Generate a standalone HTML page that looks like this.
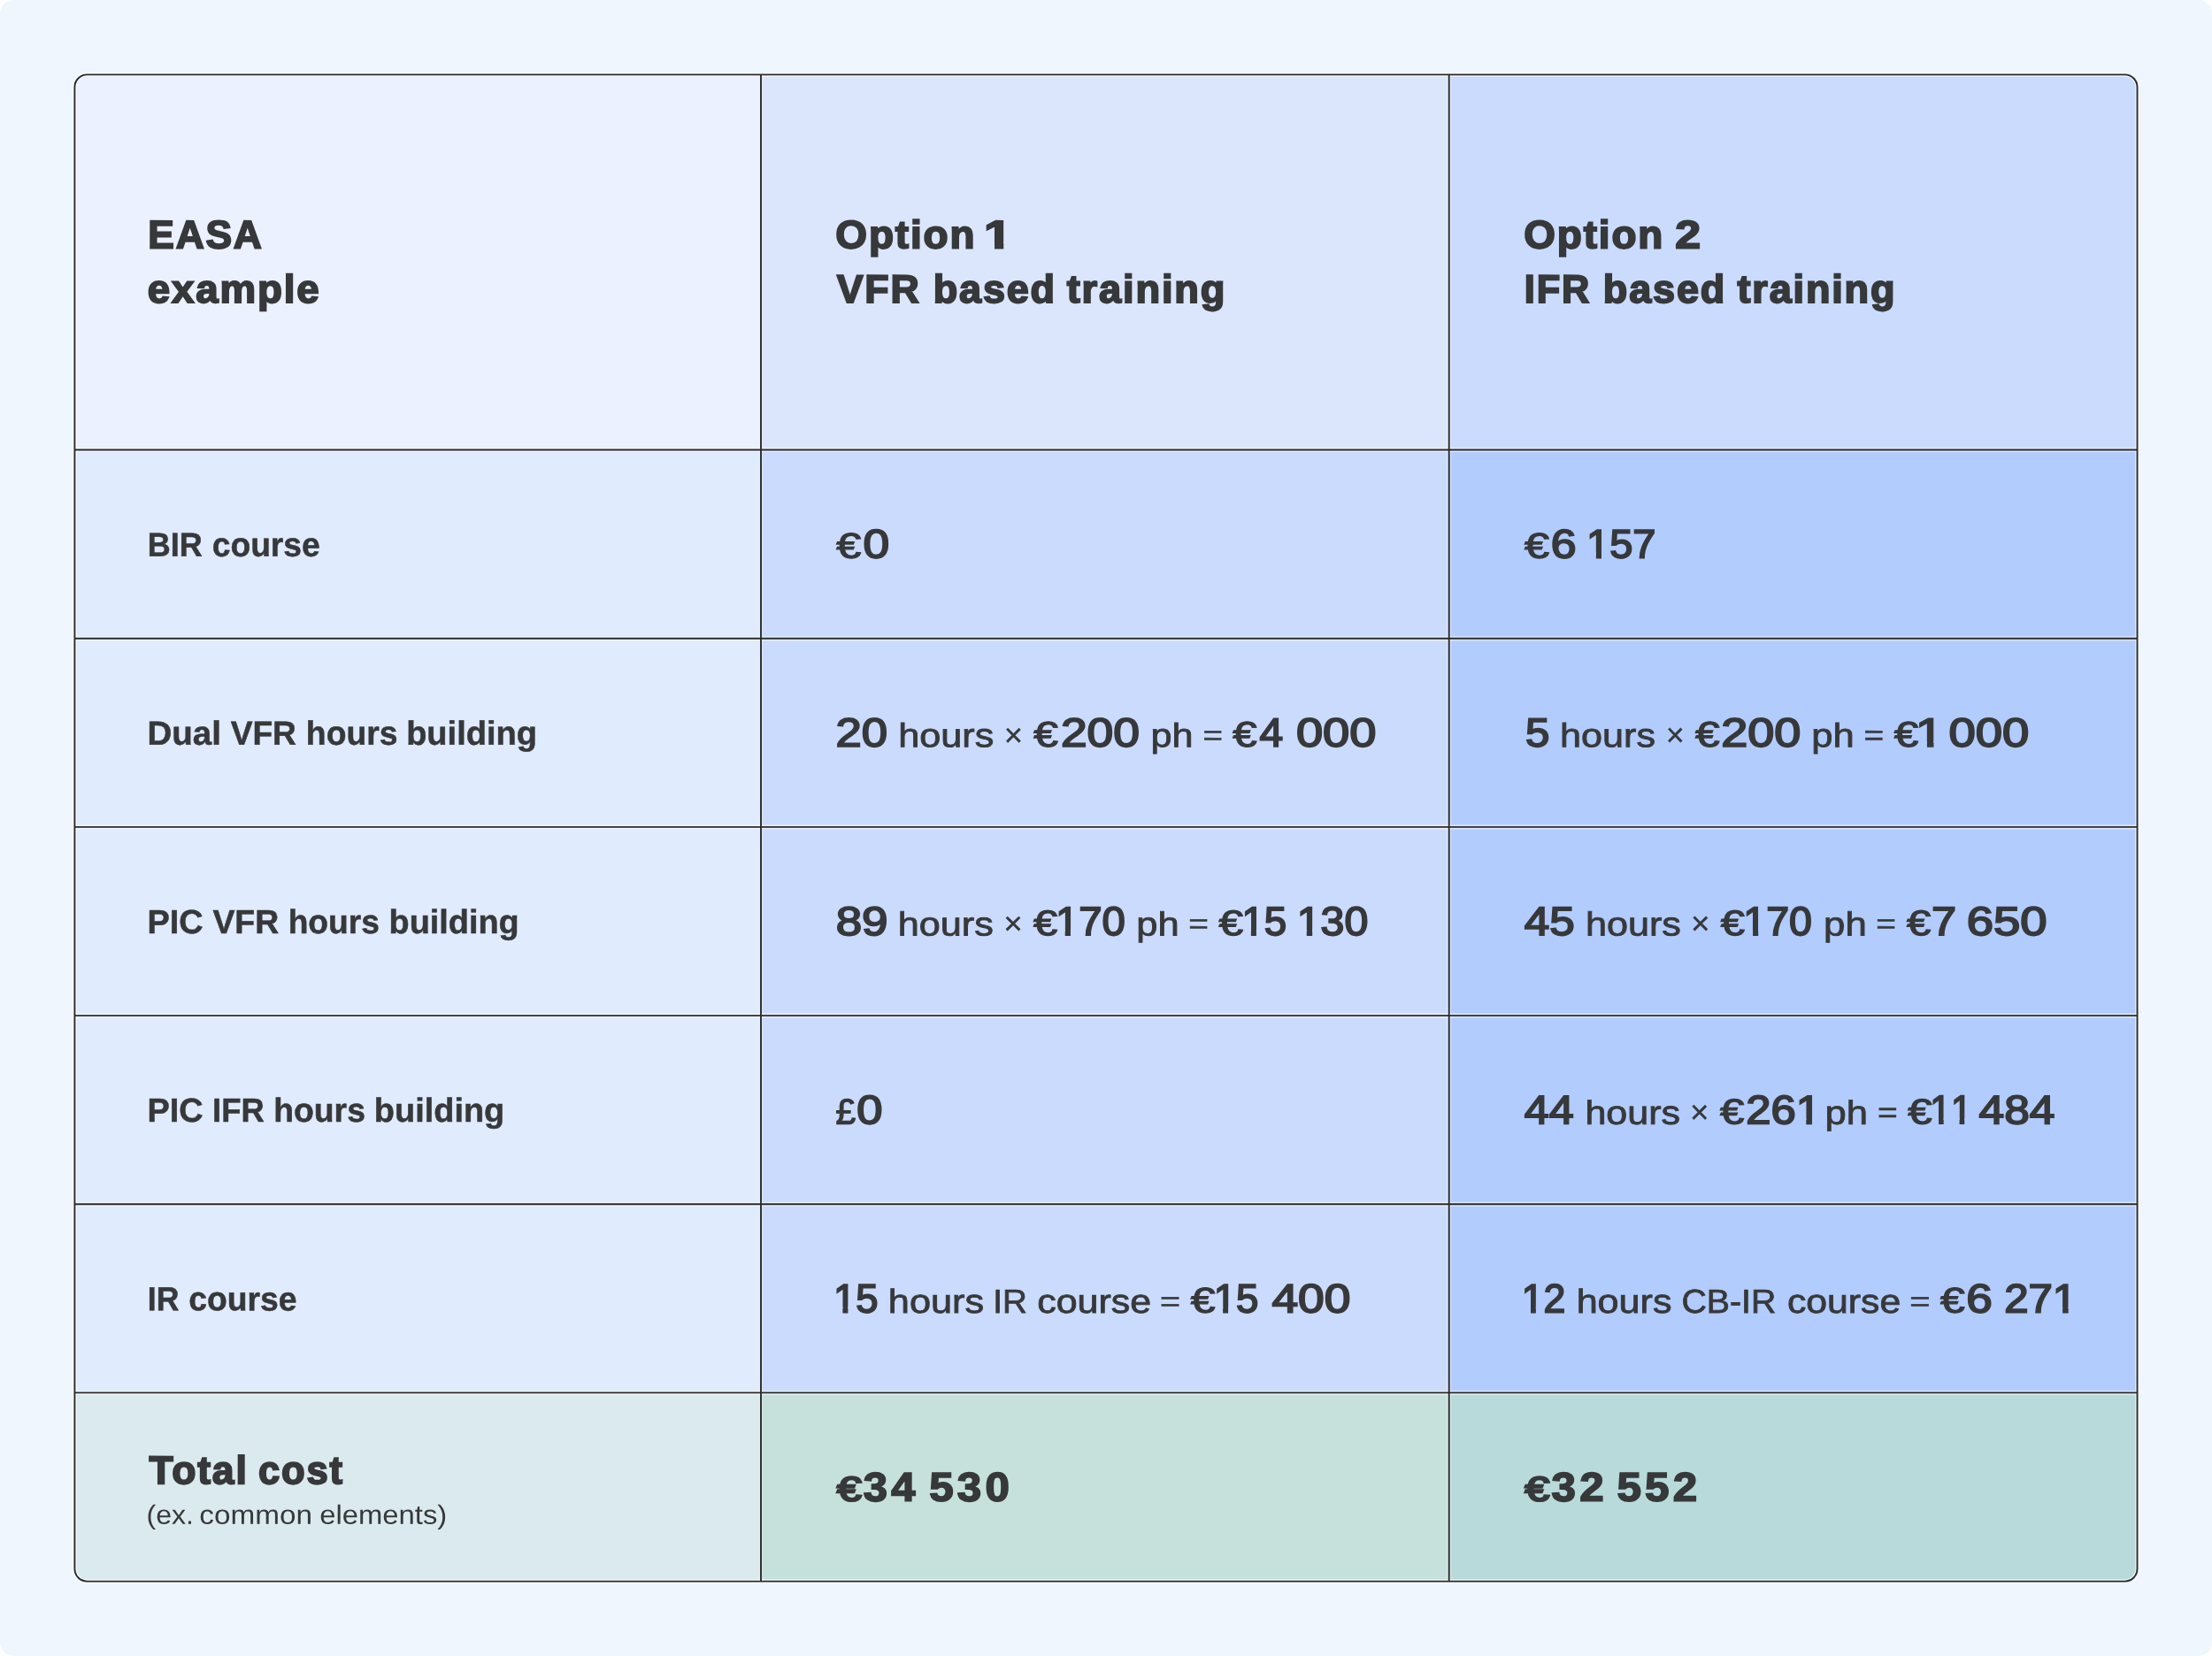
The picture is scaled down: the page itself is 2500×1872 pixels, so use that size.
<!DOCTYPE html>
<html lang="en"><head><meta charset="utf-8"><title>EASA example cost comparison</title>
<style>
html,body{width:2500px;height:1872px;margin:0;padding:0;background:#ffffff;overflow:hidden}
.page{position:absolute;left:0;top:0;width:2500px;height:1872px;background:#f0f6fe;border-radius:15px;overflow:hidden;font-family:"Liberation Sans",sans-serif}
.grid{position:absolute;left:0;top:0}
.texts{position:absolute;left:0;top:0;width:2500px;height:1872px;will-change:transform}
*{margin:0;padding:0;box-sizing:border-box}
.t{position:absolute;white-space:pre;line-height:1;font-family:"Liberation Sans",sans-serif;color:#37383a;transform-origin:0 0}
.cH{font-weight:700;font-size:44.61px;-webkit-text-stroke:1.9px #37383a;letter-spacing:1.8px;}
.cL{font-weight:700;font-size:37.94px;-webkit-text-stroke:0.5px #37383a;}
.cN{font-weight:400;font-size:45.61px;-webkit-text-stroke:1.9px #37383a;}
.cW{font-weight:400;font-size:37.75px;-webkit-text-stroke:0.8px #37383a;}
.cE{font-weight:400;font-size:40.45px;-webkit-text-stroke:1.25px #37383a;}
.cX{font-weight:400;font-size:37.75px;-webkit-text-stroke:0.3px #37383a;}
.cQ{font-weight:400;font-size:37.75px;-webkit-text-stroke:0.6px #37383a;}
.cT{font-weight:700;font-size:46.05px;-webkit-text-stroke:1.7px #37383a;letter-spacing:4.0px;}
.cTE{font-weight:400;font-size:38.83px;-webkit-text-stroke:2.4px #37383a;}
.cS{font-weight:400;font-size:30.42px;}
.oN{display:inline-block;clip-path:polygon(-10px -20px,60px -20px,60px 32.09px,16.45px 32.09px,16.45px 80px,10.52px 80px,10.52px 32.09px,-10px 32.09px)}
.oH{display:inline-block;clip-path:polygon(-10px -20px,60px -20px,60px 29.95px,17.48px 29.95px,17.48px 80px,9.46px 80px,9.46px 29.95px,-10px 29.95px)}
.oT{display:inline-block;clip-path:polygon(-10px -20px,60px -20px,60px 32.00px,17.92px 32.00px,17.92px 80px,9.90px 80px,9.90px 32.00px,-10px 32.00px)}

</style></head><body>
<div class="page">
<svg class="grid" width="2500" height="1872" viewBox="0 0 2500 1872"><defs><clipPath id="tc"><rect x="84.4" y="84.4" width="2331.15" height="1703.20" rx="14.0" ry="14.0"/></clipPath></defs><g clip-path="url(#tc)"><rect x="84.40" y="84.40" width="775.60" height="424.15" fill="#ebf1fe"/><rect x="84.40" y="508.55" width="775.60" height="1065.85" fill="#e0ebfe"/><rect x="84.40" y="1574.40" width="775.60" height="213.20" fill="#dbeaef"/><rect x="860.00" y="84.40" width="777.70" height="424.15" fill="#dbe6fd"/><rect x="860.00" y="508.55" width="777.70" height="1065.85" fill="#cbdbfd"/><rect x="860.00" y="1574.40" width="777.70" height="213.20" fill="#c6e1db"/><rect x="1637.70" y="84.40" width="777.85" height="424.15" fill="#cadbfd"/><rect x="1637.70" y="508.55" width="777.85" height="1065.85" fill="#b2ccfd"/><rect x="1637.70" y="1574.40" width="777.85" height="213.20" fill="#b8dadb"/></g><g stroke="#ffffff" stroke-width="5.0" fill="none"><line x1="84.4" y1="508.55" x2="2415.55" y2="508.55" stroke-opacity=".55"/><line x1="84.4" y1="721.70" x2="2415.55" y2="721.70" stroke-opacity=".55"/><line x1="84.4" y1="934.90" x2="2415.55" y2="934.90" stroke-opacity=".55"/><line x1="84.4" y1="1148.10" x2="2415.55" y2="1148.10" stroke-opacity=".55"/><line x1="84.4" y1="1361.25" x2="2415.55" y2="1361.25" stroke-opacity=".55"/><line x1="84.4" y1="1574.40" x2="2415.55" y2="1574.40" stroke-opacity=".55"/><line x1="860.00" y1="84.4" x2="860.00" y2="1787.6" stroke-opacity="0.12"/><line x1="1637.70" y1="84.4" x2="1637.70" y2="1787.6" stroke-opacity="0.35"/><rect x="84.4" y="84.4" width="2331.15" height="1703.20" rx="14.0" ry="14.0" stroke-opacity=".55"/></g><g stroke="#2a2a2a" stroke-width="1.9" fill="none"><line x1="84.4" y1="508.55" x2="2415.55" y2="508.55"/><line x1="84.4" y1="721.70" x2="2415.55" y2="721.70"/><line x1="84.4" y1="934.90" x2="2415.55" y2="934.90"/><line x1="84.4" y1="1148.10" x2="2415.55" y2="1148.10"/><line x1="84.4" y1="1361.25" x2="2415.55" y2="1361.25"/><line x1="84.4" y1="1574.40" x2="2415.55" y2="1574.40"/><line x1="860.00" y1="84.4" x2="860.00" y2="1787.6"/><line x1="1637.70" y1="84.4" x2="1637.70" y2="1787.6"/><rect x="84.4" y="84.4" width="2331.15" height="1703.20" rx="14.0" ry="14.0"/></g></svg>
<div class="texts">
<span class="t cH" style="left:167px;top:243px;transform:translate(0.30px,0.50px) rotate(.03deg) scaleX(0.9939)">EASA</span>
<span class="t cH" style="left:166px;top:304px;transform:translate(0.85px,0.90px) rotate(.03deg) scaleX(1.0231)">example</span>
<span class="t cH" style="left:944px;top:243px;transform:translate(0.35px,0.50px) rotate(.03deg) scaleX(1.0297)">Option</span>
<span class="t cH" style="left:1112px;top:243px;transform:translate(0.09px,0.50px) rotate(.03deg) scaleX(1.2670)"><span class="oH">1</span></span>
<span class="t cH" style="left:945px;top:304px;transform:translate(0.73px,0.90px) rotate(.03deg) scaleX(1.0030)">VFR</span>
<span class="t cH" style="left:1054px;top:304px;transform:translate(0.75px,0.90px) rotate(.03deg) scaleX(1.0088)">based</span>
<span class="t cH" style="left:1205px;top:304px;transform:translate(0.74px,0.90px) rotate(.03deg) scaleX(1.0143)">training</span>
<span class="t cH" style="left:1722px;top:243px;transform:translate(0.36px,0.50px) rotate(.03deg) scaleX(1.0276)">Option</span>
<span class="t cH" style="left:1893px;top:243px;transform:translate(0.35px,0.50px) rotate(.03deg) scaleX(1.1634)">2</span>
<span class="t cH" style="left:1722px;top:304px;transform:translate(0.88px,0.90px) rotate(.03deg) scaleX(0.9724)">IFR</span>
<span class="t cH" style="left:1811px;top:304px;transform:translate(0.87px,0.90px) rotate(.03deg) scaleX(1.0092)">based</span>
<span class="t cH" style="left:1963px;top:304px;transform:translate(0.44px,0.90px) rotate(.03deg) scaleX(1.0111)">training</span>
<span class="t cL" style="left:166px;top:597px;transform:translate(0.65px,0.75px) rotate(.03deg) scaleX(0.9503)">BIR</span>
<span class="t cL" style="left:239px;top:597px;transform:translate(0.72px,0.75px) rotate(.03deg) scaleX(0.9813)">course</span>
<span class="t cL" style="left:166px;top:810px;transform:translate(0.47px,0.75px) rotate(.03deg) scaleX(1.0159)">Dual</span>
<span class="t cL" style="left:260px;top:810px;transform:translate(0.67px,0.75px) rotate(.03deg) scaleX(0.9793)">VFR</span>
<span class="t cL" style="left:345px;top:810px;transform:translate(0.89px,0.75px) rotate(.03deg) scaleX(0.9824)">hours</span>
<span class="t cL" style="left:459px;top:810px;transform:translate(0.16px,0.75px) rotate(.03deg) scaleX(1.0023)">building</span>
<span class="t cL" style="left:166px;top:1023px;transform:translate(0.63px,0.95px) rotate(.03deg) scaleX(0.9976)">PIC</span>
<span class="t cL" style="left:240px;top:1023px;transform:translate(0.41px,0.95px) rotate(.03deg) scaleX(0.9861)">VFR</span>
<span class="t cL" style="left:325px;top:1023px;transform:translate(0.69px,0.95px) rotate(.03deg) scaleX(0.9792)">hours</span>
<span class="t cL" style="left:439px;top:1023px;transform:translate(0.59px,0.95px) rotate(.03deg) scaleX(0.9981)">building</span>
<span class="t cL" style="left:166px;top:1237px;transform:translate(0.63px,0.05px) rotate(.03deg) scaleX(0.9976)">PIC</span>
<span class="t cL" style="left:240px;top:1237px;transform:translate(0.04px,0.05px) rotate(.03deg) scaleX(0.9614)">IFR</span>
<span class="t cL" style="left:309px;top:1237px;transform:translate(0.25px,0.05px) rotate(.03deg) scaleX(0.9841)">hours</span>
<span class="t cL" style="left:422px;top:1237px;transform:translate(0.82px,0.05px) rotate(.03deg) scaleX(1.0004)">building</span>
<span class="t cL" style="left:166px;top:1450px;transform:translate(0.78px,0.35px) rotate(.03deg) scaleX(0.9370)">IR</span>
<span class="t cL" style="left:213px;top:1450px;transform:translate(0.27px,0.35px) rotate(.03deg) scaleX(0.9820)">course</span>
<span class="t cH" style="left:168px;top:1640px;transform:translate(0.56px,0.30px) rotate(.03deg) scaleX(0.9984)">Total</span>
<span class="t cH" style="left:292px;top:1640px;transform:translate(0.09px,0.30px) rotate(.03deg) scaleX(0.9762)">cost</span>
<span class="t cS" style="left:165px;top:1696px;transform:translate(0.55px,0.80px) rotate(.03deg) scaleX(1.0554)">(ex.</span>
<span class="t cS" style="left:225px;top:1696px;transform:translate(0.37px,0.80px) rotate(.03deg) scaleX(1.0943)">common</span>
<span class="t cS" style="left:361px;top:1696px;transform:translate(0.15px,0.80px) rotate(.03deg) scaleX(1.0796)">elements)</span>
<span class="t cE" style="left:945px;top:596px;transform:translate(0.37px,0.77px) rotate(.03deg) scaleX(1.2420)">€</span>
<span class="t cN" style="left:975px;top:592px;transform:translate(0.47px,0.50px) rotate(.03deg) scaleX(1.1676)">0</span>
<span class="t cE" style="left:1722px;top:596px;transform:translate(1.00px,0.77px) rotate(.03deg) scaleX(1.2449)">€</span>
<span class="t cN" style="left:1752px;top:592px;transform:translate(0.67px,0.50px) rotate(.03deg) scaleX(1.1364)">6</span>
<span class="t cN" style="left:1793px;top:592px;transform:translate(0.08px,0.50px) rotate(.03deg) scaleX(1.0307)"><span class="oN">1</span>57</span>
<span class="t cN" style="left:944px;top:805px;transform:translate(0.61px,0.80px) rotate(.03deg) scaleX(1.1537)">20</span>
<span class="t cW" style="left:1015px;top:813px;transform:translate(0.25px,0.31px) rotate(.03deg) scaleX(1.1444)">hours</span>
<span class="t cX" style="left:1134px;top:813px;transform:translate(0.88px,0.30px) rotate(.03deg) scale(0.9646,0.9767)">×</span>
<span class="t cE" style="left:1168px;top:810px;transform:translate(0.36px,0.07px) rotate(.03deg) scaleX(1.2287)">€</span>
<span class="t cN" style="left:1198px;top:805px;transform:translate(0.92px,0.80px) rotate(.03deg) scaleX(1.1695)">200</span>
<span class="t cW" style="left:1300px;top:813px;transform:translate(0.40px,0.31px) rotate(.03deg) scaleX(1.1446)">ph</span>
<span class="t cQ" style="left:1359px;top:815px;transform:translate(0.45px,0.60px) rotate(.03deg) scale(1.0196,0.8405)">=</span>
<span class="t cE" style="left:1393px;top:810px;transform:translate(0.38px,0.07px) rotate(.03deg) scaleX(1.2147)">€</span>
<span class="t cN" style="left:1423px;top:805px;transform:translate(0.60px,0.80px) rotate(.03deg) scaleX(1.0502)">4</span>
<span class="t cN" style="left:1464px;top:805px;transform:translate(0.91px,0.80px) rotate(.03deg) scaleX(1.1907)">000</span>
<span class="t cN" style="left:1724px;top:805px;transform:translate(0.09px,0.80px) rotate(.03deg) scaleX(1.0778)">5</span>
<span class="t cW" style="left:1763px;top:813px;transform:translate(0.05px,0.31px) rotate(.03deg) scaleX(1.1429)">hours</span>
<span class="t cX" style="left:1882px;top:812px;transform:translate(0.65px,0.81px) rotate(.03deg) scale(0.9517,0.9802)">×</span>
<span class="t cE" style="left:1916px;top:810px;transform:translate(0.09px,0.07px) rotate(.03deg) scaleX(1.2245)">€</span>
<span class="t cN" style="left:1945px;top:805px;transform:translate(0.15px,0.80px) rotate(.03deg) scaleX(1.1845)">200</span>
<span class="t cW" style="left:2047px;top:813px;transform:translate(0.27px,0.31px) rotate(.03deg) scaleX(1.1538)">ph</span>
<span class="t cQ" style="left:2106px;top:815px;transform:translate(0.50px,0.46px) rotate(.03deg) scale(1.0280,0.8452)">=</span>
<span class="t cE" style="left:2140px;top:810px;transform:translate(0.87px,0.07px) rotate(.03deg) scaleX(1.2220)">€</span>
<span class="t cN" style="left:2164px;top:805px;transform:translate(0.87px,0.80px) rotate(.03deg) scaleX(1.2464)"><span class="oN">1</span></span>
<span class="t cN" style="left:2202px;top:805px;transform:translate(0.44px,0.80px) rotate(.03deg) scaleX(1.1925)">000</span>
<span class="t cN" style="left:944px;top:1019px;transform:translate(0.68px,0.00px) rotate(.03deg) scaleX(1.1601)">89</span>
<span class="t cW" style="left:1014px;top:1026px;transform:translate(0.72px,0.51px) rotate(.03deg) scaleX(1.1439)">hours</span>
<span class="t cX" style="left:1134px;top:1026px;transform:translate(0.15px,0.20px) rotate(.03deg) scale(0.9759,0.9707)">×</span>
<span class="t cE" style="left:1168px;top:1023px;transform:translate(0.02px,0.27px) rotate(.03deg) scaleX(1.2077)">€</span>
<span class="t cN" style="left:1192px;top:1019px;transform:translate(0.91px,0.00px) rotate(.03deg) scaleX(1.0358)"><span class="oN">1</span>70</span>
<span class="t cW" style="left:1284px;top:1026px;transform:translate(0.31px,0.51px) rotate(.03deg) scaleX(1.1517)">ph</span>
<span class="t cQ" style="left:1343px;top:1028px;transform:translate(0.30px,0.68px) rotate(.03deg) scale(1.0291,0.8412)">=</span>
<span class="t cE" style="left:1377px;top:1023px;transform:translate(0.59px,0.27px) rotate(.03deg) scaleX(1.2251)">€</span>
<span class="t cN" style="left:1403px;top:1019px;transform:translate(0.41px,0.00px) rotate(.03deg) scaleX(1.0010)"><span class="oN">1</span>5</span>
<span class="t cN" style="left:1465px;top:1019px;transform:translate(0.74px,0.00px) rotate(.03deg) scaleX(1.0579)"><span class="oN">1</span>30</span>
<span class="t cN" style="left:1722px;top:1019px;transform:translate(0.88px,0.00px) rotate(.03deg) scaleX(1.1214)">45</span>
<span class="t cW" style="left:1791px;top:1026px;transform:translate(0.91px,0.51px) rotate(.03deg) scaleX(1.1431)">hours</span>
<span class="t cX" style="left:1911px;top:1026px;transform:translate(0.02px,0.08px) rotate(.03deg) scale(0.9786,0.9772)">×</span>
<span class="t cE" style="left:1944px;top:1023px;transform:translate(0.87px,0.27px) rotate(.03deg) scaleX(1.2073)">€</span>
<span class="t cN" style="left:1970px;top:1019px;transform:translate(0.38px,0.00px) rotate(.03deg) scaleX(1.0197)"><span class="oN">1</span>70</span>
<span class="t cW" style="left:2061px;top:1026px;transform:translate(0.09px,0.51px) rotate(.03deg) scaleX(1.1591)">ph</span>
<span class="t cQ" style="left:2120px;top:1028px;transform:translate(0.30px,0.68px) rotate(.03deg) scale(1.0291,0.8412)">=</span>
<span class="t cE" style="left:2155px;top:1023px;transform:translate(0.04px,0.27px) rotate(.03deg) scaleX(1.2125)">€</span>
<span class="t cN" style="left:2182px;top:1019px;transform:translate(0.95px,0.00px) rotate(.03deg) scaleX(1.1049)">7</span>
<span class="t cN" style="left:2222px;top:1019px;transform:translate(0.65px,0.00px) rotate(.03deg) scaleX(1.1939)">650</span>
<span class="t cE" style="left:944px;top:1236px;transform:translate(0.50px,0.47px) rotate(.03deg) scaleX(1.0063)">£</span>
<span class="t cN" style="left:968px;top:1232px;transform:translate(0.31px,0.20px) rotate(.03deg) scaleX(1.1502)">0</span>
<span class="t cN" style="left:1722px;top:1232px;transform:translate(0.89px,0.20px) rotate(.03deg) scaleX(1.1012)">44</span>
<span class="t cW" style="left:1791px;top:1239px;transform:translate(0.40px,0.71px) rotate(.03deg) scaleX(1.1399)">hours</span>
<span class="t cX" style="left:1910px;top:1238px;transform:translate(0.06px,0.99px) rotate(.03deg) scale(0.9739,0.9905)">×</span>
<span class="t cE" style="left:1943px;top:1236px;transform:translate(0.91px,0.47px) rotate(.03deg) scaleX(1.2116)">€</span>
<span class="t cN" style="left:1973px;top:1232px;transform:translate(0.30px,0.20px) rotate(.03deg) scaleX(1.1116)">26<span class="oN">1</span></span>
<span class="t cW" style="left:2062px;top:1239px;transform:translate(0.64px,0.71px) rotate(.03deg) scaleX(1.1542)">ph</span>
<span class="t cQ" style="left:2121px;top:1241px;transform:translate(0.94px,0.86px) rotate(.03deg) scale(1.0338,0.8474)">=</span>
<span class="t cE" style="left:2156px;top:1236px;transform:translate(0.27px,0.47px) rotate(.03deg) scaleX(1.2137)">€</span>
<span class="t cN" style="left:2181px;top:1232px;transform:translate(0.34px,0.20px) rotate(.03deg) scaleX(0.9291)"><span class="oN">1</span><span class="oN">1</span></span>
<span class="t cN" style="left:2236px;top:1232px;transform:translate(0.58px,0.20px) rotate(.03deg) scaleX(1.1282)">484</span>
<span class="t cN" style="left:942px;top:1445px;transform:translate(0.01px,0.50px) rotate(.03deg) scaleX(0.9948)"><span class="oN">1</span>5</span>
<span class="t cW" style="left:1003px;top:1453px;transform:translate(0.87px,0.01px) rotate(.03deg) scaleX(1.1468)">hours</span>
<span class="t cW" style="left:1122px;top:1453px;transform:translate(0.28px,0.01px) rotate(.03deg) scaleX(1.0215)">IR</span>
<span class="t cW" style="left:1172px;top:1453px;transform:translate(0.30px,0.01px) rotate(.03deg) scaleX(1.1369)">course</span>
<span class="t cQ" style="left:1311px;top:1455px;transform:translate(0.10px,0.76px) rotate(.03deg) scale(1.0462,0.8363)">=</span>
<span class="t cE" style="left:1345px;top:1449px;transform:translate(0.72px,0.77px) rotate(.03deg) scaleX(1.2316)">€</span>
<span class="t cN" style="left:1371px;top:1445px;transform:translate(0.68px,0.50px) rotate(.03deg) scaleX(0.9979)"><span class="oN">1</span>5</span>
<span class="t cN" style="left:1437px;top:1445px;transform:translate(0.42px,0.50px) rotate(.03deg) scaleX(1.1680)">400</span>
<span class="t cN" style="left:1719px;top:1445px;transform:translate(0.78px,0.50px) rotate(.03deg) scaleX(0.9761)"><span class="oN">1</span>2</span>
<span class="t cW" style="left:1781px;top:1453px;transform:translate(0.66px,0.01px) rotate(.03deg) scaleX(1.1415)">hours</span>
<span class="t cW" style="left:1900px;top:1453px;transform:translate(0.48px,0.01px) rotate(.03deg) scaleX(1.0398)">CB-IR</span>
<span class="t cW" style="left:2019px;top:1453px;transform:translate(0.95px,0.01px) rotate(.03deg) scaleX(1.1317)">course</span>
<span class="t cQ" style="left:2158px;top:1455px;transform:translate(0.29px,0.76px) rotate(.03deg) scale(1.0587,0.8360)">=</span>
<span class="t cE" style="left:2192px;top:1449px;transform:translate(0.99px,0.77px) rotate(.03deg) scaleX(1.2306)">€</span>
<span class="t cN" style="left:2222px;top:1445px;transform:translate(0.38px,0.50px) rotate(.03deg) scaleX(1.1619)">6</span>
<span class="t cN" style="left:2265px;top:1445px;transform:translate(0.25px,0.50px) rotate(.03deg) scaleX(1.0767)">27<span class="oN">1</span></span>
<span class="t cTE" style="left:946px;top:1664px;transform:translate(0.12px,0.55px) rotate(.03deg) scaleX(1.2815)">€</span>
<span class="t cT" style="left:975px;top:1657px;transform:translate(0.69px,0.80px) rotate(.03deg) scaleX(1.0631)">34</span>
<span class="t cT" style="left:1050px;top:1657px;transform:translate(0.21px,0.80px) rotate(.03deg) scaleX(1.0700)">530</span>
<span class="t cTE" style="left:1723px;top:1664px;transform:translate(0.64px,0.55px) rotate(.03deg) scaleX(1.2817)">€</span>
<span class="t cT" style="left:1753px;top:1657px;transform:translate(0.64px,0.80px) rotate(.03deg) scaleX(1.0715)">32</span>
<span class="t cT" style="left:1827px;top:1657px;transform:translate(0.40px,0.80px) rotate(.03deg) scaleX(1.0716)">552</span>
</div>
</div>
</body></html>
